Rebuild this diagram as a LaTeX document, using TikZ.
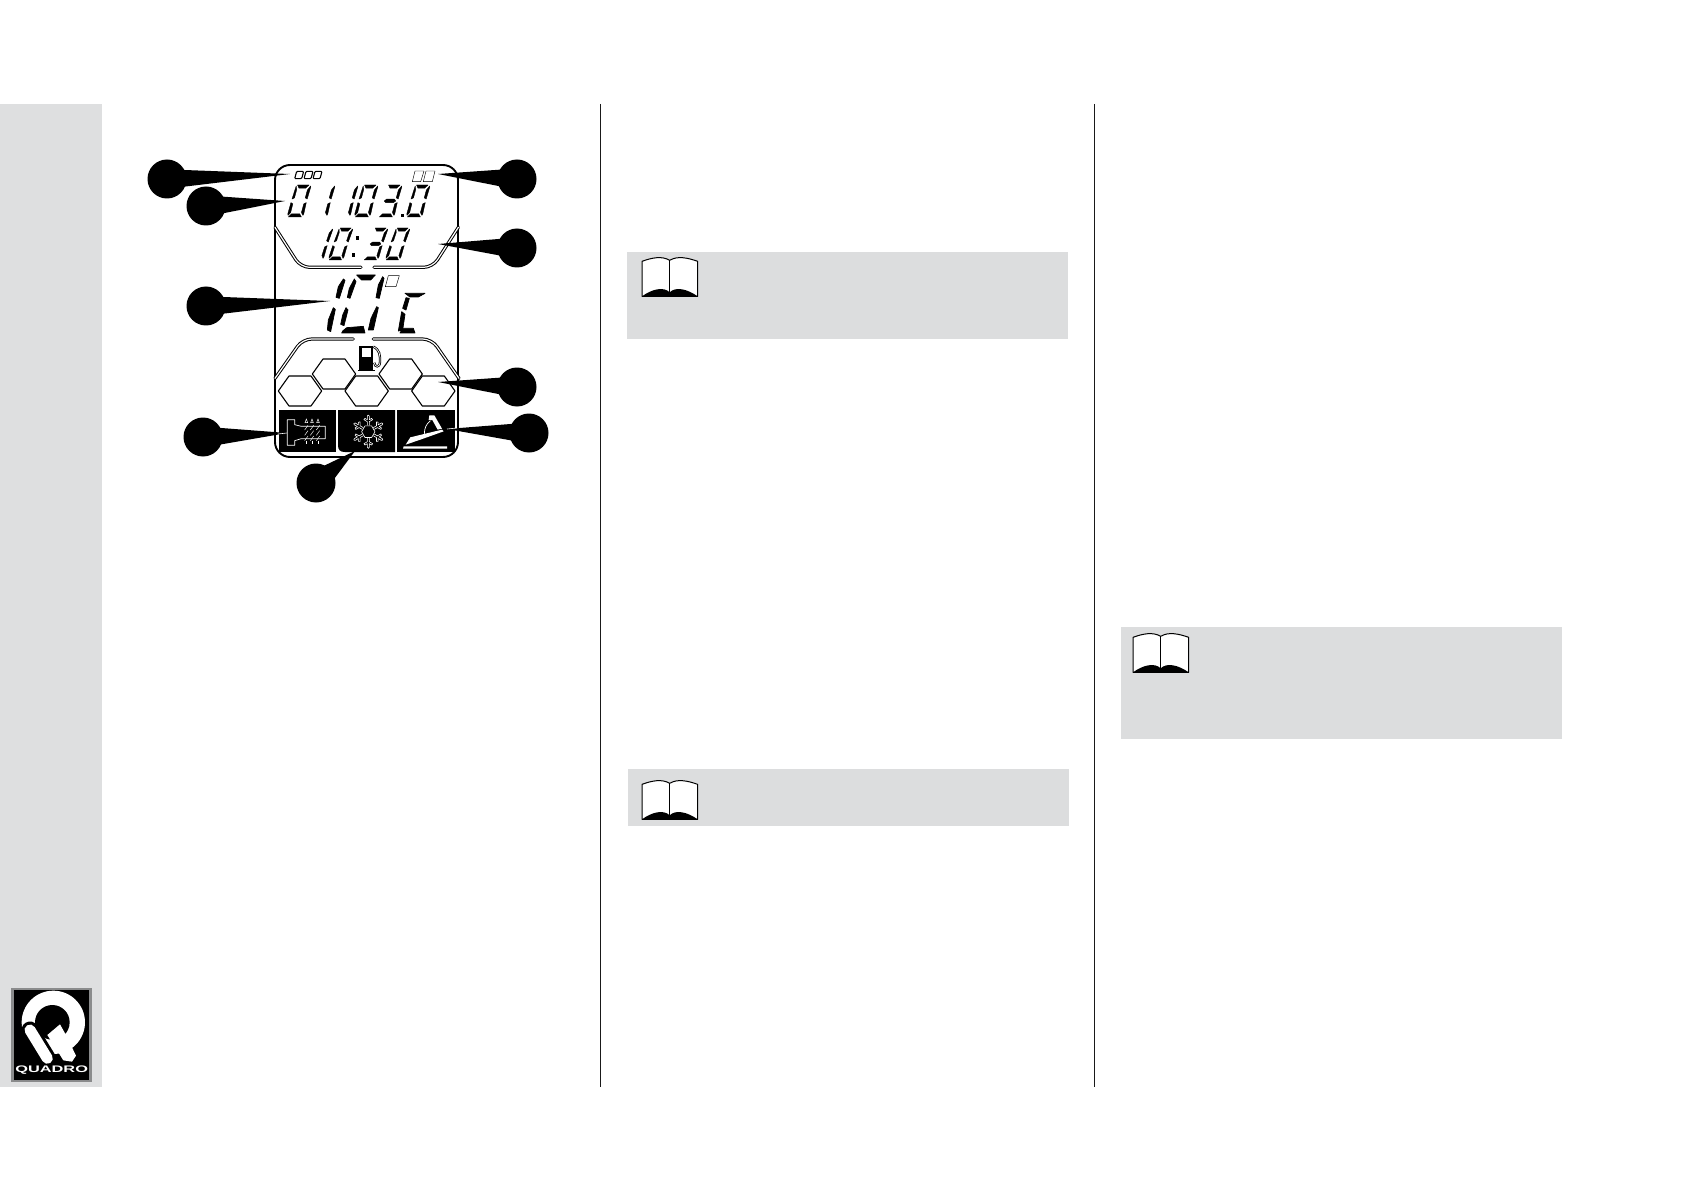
\documentclass[tikz,border=0pt]{standalone}
\usepackage{fontspec}
\usepackage{graphicx}
\setmainfont{Liberation Sans}
\usetikzlibrary{calc}
\definecolor{sidegray}{HTML}{DEDFE0}
\definecolor{notegray}{HTML}{DCDDDE}
\definecolor{logorim}{HTML}{8A8B8C}
\tikzset{
  calloutdot/.style={circle,fill=black,inner sep=0pt,outer sep=0pt,minimum size=39pt},
  calloutwedge/.style={fill=black},
  lcdfill/.style={fill=black,draw=black,line width=.35pt,line join=round},
  bigseg/.style={fill=black,draw=black,line width=.7pt,line join=round},
  lcdcell/.style={draw=black,line width=.45pt,fill=white,line join=round},
  archline/.style={draw=black,line width=1pt,double=white,double distance=1.2pt,rounded corners=9pt,line cap=round},
  hexcell/.style={draw=black,line width=1.1pt,fill=white,line join=round},
  panel/.style={fill=black},
  iconline/.style={draw=white,line width=.7pt,line join=round},
  coilline/.style={draw=white,line width=.45pt},
  rule/.style={draw=black!90,line width=1.2pt},
  notebox/.style={fill=notegray},
  whitetip/.style={draw=white,line width=.6pt}
}
\newcommand\sega{(.16,1)--(.88,1)--(.72,.9)--(.3,.9)--cycle}
\newcommand\segb{(.99,.97)--(1.02,.94)--(.98,.56)--(.84,.6)--(.85,.84)--cycle}
\newcommand\segc{(.98,.45)--(.84,.41)--(.83,.14)--(.97,.05)--(1,.1)--cycle}
\newcommand\segd{(.08,0)--(.9,0)--(.74,.1)--(.24,.1)--cycle}
\newcommand\sege{(.02,.45)--(.16,.41)--(.16,.14)--(.04,.05)--(0,.1)--cycle}
\newcommand\segf{(.09,.97)--(.03,.56)--(.17,.6)--(.18,.86)--cycle}
\newcommand\segg{(.14,.5)--(.26,.45)--(.74,.45)--(.86,.5)--(.74,.56)--(.26,.56)--cycle}
\def\lcdw{16}
\def\lcds{8}
\newcommand\lcddigit[4]{\begin{scope}[shift={(#1,#2)},x={(\lcdw pt,0pt)},y={(\lcds pt,#3pt)}]
  \foreach \s in {#4}{\fill[lcdfill] \csname seg\s\endcsname;}
\end{scope}}
\newcommand\manualbook[2]{\begin{scope}[shift={(#1,#2)},scale=1/3]
  \draw[fill=white,line width=1pt,line join=round] (0,13) .. controls (30,2) and (60,-4) .. (83,10) .. controls (106,-4) and (136,2) .. (167,13) -- (167,118) -- (0,118) -- cycle;
  \fill[black] (0,118) .. controls (30,96) and (65,88) .. (83,106) .. controls (101,88) and (136,96) .. (167,118) -- cycle;
  \draw[line width=1.2pt] (83,10) -- (83,118);
  \draw[line width=1.2pt] (0,118) -- (167,118);
\end{scope}}
\newcommand\callout[3]{%
  \node[calloutdot] (#1) at (#2) {};
  \coordinate (#1-tip) at (#3);
  \fill[calloutwedge] ($(#1)!18.5pt!27:(#1-tip)$) -- (#1-tip) -- ($(#1)!18.5pt!-27:(#1-tip)$) -- cycle;
}
\begin{document}
\begin{tikzpicture}[x=1pt,y=-1pt]
\useasboundingbox (0,0) rectangle (1684,1190);
\fill[white] (0,0) rectangle (1684,1190);
% side strip and page rules
\fill[sidegray] (0,104) rectangle (102,1087);
\draw[rule] (600.5,104) -- (600.5,1087);
\draw[rule] (1094.5,104) -- (1094.5,1087);
% note boxes
\fill[notebox] (627,252) rectangle (1068,339);
\fill[notebox] (628,769) rectangle (1069,826);
\fill[notebox] (1121,627) rectangle (1562,739);
\manualbook{642}{257}
\manualbook{642}{780}
\manualbook{1133}{633}
% logo
\begin{scope}[shift={(10,985)},scale=1/3]
  \fill[logorim] (3,8) rectangle (245,292);
  \fill[black] (11,16) rectangle (237,284);
  \fill[white] (130,112) circle[radius=95];
  \fill[black] (127,112) circle[radius=52];
  \fill[white] (112,150) -- (150,118) -- (168,150) -- (198,212) -- (186,230) -- (160,226) -- (128,175) -- cycle;
  \draw[black,line width=17pt,line cap=round] (60,135) -- (112,220);
  \draw[white,line width=11pt,line cap=round] (60,135) -- (112,220);
  \node[text=white,font=\bfseries\fontsize{9.5}{9.5}\selectfont,inner sep=0pt] (logotext) at (125,254) {\scalebox{1.72}[1]{QUADRO}};
\end{scope}
% display frame
\draw[line width=1.9pt,rounded corners=15pt] (275,165) rectangle (458,457);
% row 1
\begin{scope}[shift={(270,160)},scale=1/3]
  \draw[lcdcell,line width=1.1pt,rounded corners=1pt] (80,34) -- (101,34) -- (95,56) -- (74,56) -- cycle;
  \draw[lcdcell,line width=1.1pt,rounded corners=1pt] (108,34) -- (129,34) -- (123,56) -- (102,56) -- cycle;
  \draw[lcdcell,line width=1.1pt,rounded corners=1pt] (135,34) -- (156,34) -- (150,56) -- (129,56) -- cycle;
  \draw[lcdcell] (435,33) -- (462,33) -- (452,65) -- (427,65) -- cycle;
  \draw[lcdcell] (468,33) -- (495,33) -- (487,65) -- (460,65) -- cycle;
\end{scope}
\lcddigit{287}{217}{32}{a,b,c,d,e,f}
\lcddigit{311}{217}{32}{b,c}
\lcddigit{334}{217}{32}{b,c}
\lcddigit{354}{217}{32}{a,b,c,d,e,f}
\lcddigit{378}{217}{32}{a,b,c,d,g}
\fill[black] (401,214) rectangle (404,217);
\lcddigit{406}{217}{32}{a,b,c,d,e,f}
% row 2
\def\lcdw{15}
\def\lcds{10}
\lcddigit{308}{260}{32}{b,c}
\lcddigit{328}{260}{32}{a,b,c,d,e,f}
\fill[black] (356,236) rectangle (359,240);
\fill[black] (352,253) rectangle (355,257);
\lcddigit{363}{260}{32}{a,b,c,d,g}
\lcddigit{385}{260}{32}{a,b,c,d,e,f}
% arches
\begin{scope}[shift={(130,140)},scale=1/3]
  \draw[archline] (435,262) -- (512,382) -- (693,382);
  \draw[archline] (985,262) -- (908,382) -- (732,382);
\end{scope}
\begin{scope}[shift={(160,330)},scale=1/3]
  \draw[archline] (345,145) -- (428,27) -- (580,27);
  \draw[archline] (897,145) -- (815,27) -- (640,27);
\end{scope}
% temperature
\begin{scope}[shift={(310,265)},scale=1/3]
  \fill[bigseg] (100,42) -- (105,46) -- (88,100) -- (78,97) -- (85,65) -- cycle;
  \fill[bigseg] (70,128) -- (76,133) -- (62,200) -- (52,195) -- (55,165) -- cycle;
  \fill[bigseg] (133,42) -- (138,50) -- (120,100) -- (112,97) -- (118,70) -- cycle;
  \fill[bigseg] (108,128) -- (114,135) -- (102,182) -- (92,178) -- (98,150) -- cycle;
  \fill[bigseg] (140,30) -- (196,30) -- (182,45) -- (155,45) -- cycle;
  \fill[bigseg] (218,35) -- (222,40) -- (208,100) -- (198,98) -- (205,60) -- cycle;
  \fill[bigseg] (200,125) -- (205,128) -- (190,195) -- (175,195) -- (183,160) -- cycle;
  \fill[bigseg] (98,198) -- (110,188) -- (160,184) -- (165,204) -- (95,204) -- cycle;
  \draw[lcdcell] (235,32) -- (268,32) -- (258,65) -- (226,65) -- cycle;
  \fill[bigseg] (285,85) -- (345,85) -- (325,96) -- (300,96) -- cycle;
  \fill[bigseg] (288,98) -- (298,100) -- (288,135) -- (278,130) -- cycle;
  \fill[bigseg] (275,140) -- (285,148) -- (278,195) -- (265,198) -- cycle;
  \fill[bigseg] (270,204) -- (278,190) -- (310,190) -- (315,204) -- cycle;
\end{scope}
% fuel gauge
\begin{scope}[shift={(160,330)},scale=1/3]
  \fill[black] (598,48) rectangle (640,120);
  \fill[black] (593,120) rectangle (645,124);
  \fill[white] (605,55) rectangle (633,80);
  \draw[black,line width=.8pt,double=white,double distance=.7pt] (640,50) .. controls (660,60) and (660,75) .. (660,95) .. controls (660,115) and (643,112) .. (643,98);
  \foreach \hx/\hy in {522/132,722/132,420/183,620/183,820/183}{
    \draw[hexcell] (\hx-65,\hy) -- (\hx-33,\hy-45) -- (\hx+33,\hy-45) -- (\hx+65,\hy) -- (\hx+33,\hy+45) -- (\hx-33,\hy+45) -- cycle;
  }
\end{scope}
% bottom panels
\fill[panel] (279,410) rectangle (336,452);
\fill[panel] (397,410) rectangle (455,452);
\fill[panel] (338,410) -- (395,410) -- (395,452) -- (345,452) .. controls (340,452) and (338,450) .. (338,445) -- cycle;
% plug icon
\begin{scope}[shift={(278,408)},scale=1/3]
  \draw[iconline] (28,35) -- (50,35) -- (50,50) -- (70,55) -- (142,55) -- (142,92) -- (70,92) -- (50,98) -- (50,112) -- (28,112) -- cycle;
  \foreach \cx in {85,102,120}{
    \draw[coilline] (\cx,33) -- (\cx+4,44) -- (\cx-4,44) -- cycle;
    \draw[coilline] (\cx+5,52) -- (\cx-5,66);
    \draw[coilline] (\cx+5,68) -- (\cx-5,82);
    \draw[coilline] (\cx+5,84) -- (\cx-5,98);
    \draw[coilline] (\cx,98) -- (\cx,107);
  }
\end{scope}
% snowflake
\begin{scope}[shift={(368.3,431.7)},scale=1/3]
  \draw[iconline,line width=.6pt] (20,0) -- (10,17.3) -- (-10,17.3) -- (-20,0) -- (-10,-17.3) -- (10,-17.3) -- cycle;
  \foreach \a in {30,90,150,210,270,330}{
    \begin{scope}[rotate=\a]
      \draw[iconline,line width=.6pt] (19,-3) -- (30,-3) -- (36,-13) -- (40,-10) -- (36,-3) -- (47,-3) -- (50,0) -- (47,3) -- (36,3) -- (40,10) -- (36,13) -- (30,3) -- (19,3);
    \end{scope}
  }
\end{scope}
% pedal icon
\begin{scope}[shift={(397,408)},scale=1/3]
  \fill[white] (20,115) -- (150,115) -- (150,122) -- (18,122) -- cycle;
  \fill[white] (26,110) -- (40,88) -- (135,65) -- (140,70) -- (70,95) -- cycle;
  \fill[white] (97,22) -- (112,22) -- (135,62) -- (122,65) -- (106,36) -- (95,36) -- cycle;
  \draw[white,line width=.7pt] (100,38) .. controls (88,48) and (82,60) .. (82,78);
\end{scope}
% callouts
\callout{c1}{167,179}{290,174}
\callout{c2}{206,206}{285,201}
\callout{c3}{517,179}{438,174}
\callout{c4}{517,248}{438,244}
\callout{c5}{206,306}{330,301}
\callout{c6}{517,387}{438,382}
\callout{c7}{529,433}{447,429}
\callout{c8}{203,437}{287,433}
\callout{c9}{316,483}{355,451}
\coordinate (c7-edge) at (457,428);
\coordinate (c8-edge) at (278,434);
\draw[whitetip] (c7-tip) -- (c7-edge);
\draw[whitetip] (c8-tip) -- (c8-edge);
\end{tikzpicture}
\end{document}
